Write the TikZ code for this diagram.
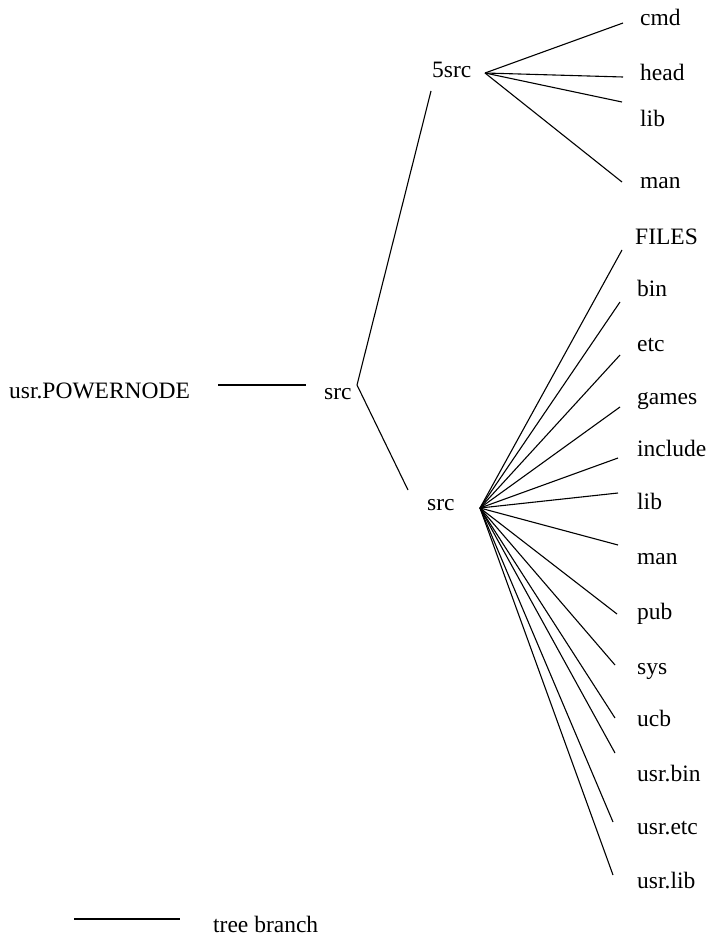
\documentclass[tikz,border=0pt]{standalone}
\usepackage{fontspec}
\setmainfont{Liberation Serif}
\newcommand{\lblfont}{\fontsize{23.5}{28}\selectfont}
\begin{document}
\begin{tikzpicture}[x=1pt,y=-1pt,
  lbl/.style={anchor=mid west, inner sep=0pt, font=\lblfont},
  br/.style={line width=1.1pt}]
\useasboundingbox (0,0) rectangle (706,942);
% text nodes
\node[lbl] (root) at (9,396) {usr.POWERNODE};
\node[lbl] (srcA) at (324,397) {src};
\node[lbl] (src5) at (432,75) {5src};
\node[lbl] (srcB) at (427,508) {src};
\node[lbl] (cmd)  at (640,23) {cmd};
\node[lbl] (head) at (640,78) {head};
\node[lbl] (libA) at (640,124) {lib};
\node[lbl] (manA) at (640,186) {man};
\node[lbl] (files) at (635,242) {FILES};
\node[lbl] (bin)  at (637,294) {bin};
\node[lbl] (etc)  at (637,349) {etc};
\node[lbl] (games) at (637,402) {games};
\node[lbl] (include) at (637,454) {include};
\node[lbl] (libB) at (637,507) {lib};
\node[lbl] (manB) at (637,562) {man};
\node[lbl] (pub)  at (637,617) {pub};
\node[lbl] (sys)  at (637,672) {sys};
\node[lbl] (ucb)  at (637,724) {ucb};
\node[lbl] (usrbin) at (637,779) {usr.bin};
\node[lbl] (usretc) at (637,832) {usr.etc};
\node[lbl] (usrlib) at (637,886) {usr.lib};
\node[lbl] (legend) at (213,930) {tree branch};
% branch points and ends
\coordinate (r1) at (218,385);
\coordinate (r2) at (306,385);
\coordinate (vA) at (357,385);
\coordinate (eA5) at (431,91);
\coordinate (eAB) at (408,490);
\coordinate (v5) at (485,73);
\coordinate (e-cmd) at (623,23);
\coordinate (e-head) at (623,77);
\coordinate (e-libA) at (622,102);
\coordinate (e-manA) at (622,182);
\coordinate (vB) at (480,508);
\coordinate (e-files) at (622,250);
\coordinate (e-bin) at (620,302);
\coordinate (e-etc) at (620,355);
\coordinate (e-games) at (620,407);
\coordinate (e-include) at (618,458);
\coordinate (e-libB) at (618,493);
\coordinate (e-manB) at (618,545);
\coordinate (e-pub) at (617,614);
\coordinate (e-sys) at (615,665);
\coordinate (e-ucb) at (615,718);
\coordinate (e-usrbin) at (615,753);
\coordinate (e-usretc) at (613,822);
\coordinate (e-usrlib) at (613,875);
\coordinate (l1) at (74,919);
\coordinate (l2) at (180,919);
% branches
\draw[br] (r1) -- (r2);
\draw[br] (eA5) -- (vA) -- (eAB);
\foreach \e in {cmd,head,libA,manA} \draw[br] (v5) -- (e-\e);
\foreach \e in {files,bin,etc,games,include,libB,manB,pub,sys,ucb,usrbin,usretc,usrlib} \draw[br] (vB) -- (e-\e);
\draw[br] (l1) -- (l2);
\end{tikzpicture}
\end{document}
